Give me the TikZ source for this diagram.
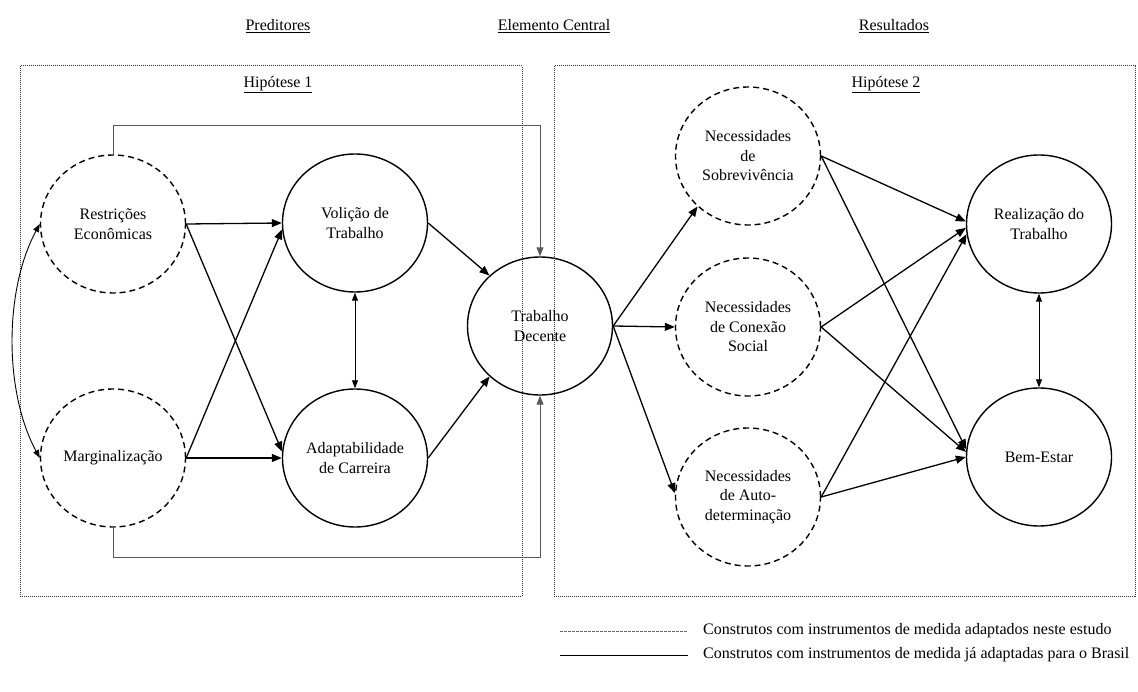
\documentclass[tikz,border=0pt]{standalone}
\usepackage{fontspec}
\setmainfont{Liberation Serif}
\usetikzlibrary{arrows.meta,shapes.geometric}
\begin{document}
\begin{tikzpicture}[x=1pt,y=-1pt,
  every node/.style={font=\fontsize{16}{19.5}\selectfont, text=black},
  construct/.style={ellipse, draw, line width=1.4pt, minimum width=145pt, minimum height=138pt, inner sep=0pt, align=center},
  latent/.style={construct, dash pattern=on 6pt off 4pt},
  solidc/.style={construct},
  path/.style={line width=1.3pt, -{Triangle[length=10pt,width=8pt]}},
  thinarrow/.style={line width=0.9pt, {Triangle[length=8pt,width=6pt]}-{Triangle[length=8pt,width=6pt]}},
  route/.style={line width=1pt, black!65, -{Triangle[length=9pt,width=7pt]}},
  dotbox/.style={line width=1pt, dash pattern=on 1pt off 1pt, black!80},
  header/.style={anchor=center}
]
\useasboundingbox (0,0) rectangle (1138,692);

% boxes
\draw[dotbox] (20,66) rectangle (522,596);
\draw[dotbox] (554,66) rectangle (1135,596);

% headers
\node[header] (h1) at (278,26) {\underline{Preditores}};
\node[header] (h2) at (554,26) {\underline{Elemento Central}};
\node[header] (h3) at (894,26) {\underline{Resultados}};
\node[header] (hy1) at (278,85) {\underline{Hipótese 1}};
\node[header] (hy2) at (886,85) {\underline{Hipótese 2}};

% constructs
\node[latent] (RE) at (113,224) {Restrições\\Econômicas};
\node[latent] (MA) at (113,458) {Marginalização};
\node[solidc] (VT) at (355,223) {Volição de\\Trabalho};
\node[solidc] (AC) at (355,458) {Adaptabilidade\\de Carreira};
\node[solidc] (TD) at (540,326) {Trabalho\\Decente};
\node[latent] (NS) at (748,156) {Necessidades\\de\\Sobrevivência};
\node[latent] (NC) at (748,327) {Necessidades\\de Conexão\\Social};
\node[latent] (ND) at (748,497) {Necessidades\\de Auto-\\determinação};
\node[solidc] (RT) at (1039,224) {Realização do\\Trabalho};
\node[solidc] (BE) at (1039,457) {Bem-Estar};

% predictors
\draw[path] (RE.east) -- (VT.west);
\draw[path] (RE.east) -- (AC.175);
\draw[path] (MA.east) -- (AC.west);
\draw[path] (MA.east) -- (VT.185);
\draw[thinarrow] (VT.south) -- (AC.north);
\draw[path] (VT.east) -- (TD.135);
\draw[path] (AC.east) -- (TD.225);
\draw[thinarrow] (RE.west) .. controls (4,290) and (4,392) .. (MA.west);

% routed paths
\draw[route] (RE.north) -- ++(0,-29) -| (TD.north);
\draw[route] (MA.south) -- ++(0,30) -| (TD.south);

% outcomes
\draw[path] (TD.east) -- (NS.225);
\draw[path] (TD.east) -- (NC.west);
\draw[path] (TD.east) -- (ND.177);

\draw[path] (NS.east) -- (RT.178);
\draw[path] (NS.east) -- (BE.174);
\draw[path] (NC.east) -- (RT.183);
\draw[path] (NC.east) -- (BE.176);
\draw[path] (ND.east) -- (RT.188);
\draw[path] (ND.east) -- (BE.west);
\draw[thinarrow] (RT.south) -- (BE.north);

% legend
\coordinate (l1a) at (560,631);
\coordinate (l1b) at (688,631);
\coordinate (l2a) at (560,655);
\coordinate (l2b) at (688,655);
\draw[line width=0.6pt, black!60, dash pattern=on 2.5pt off 1.5pt] (l1a) -- (l1b);
\draw[line width=1pt, black] (l2a) -- (l2b);
\node[anchor=west, inner sep=0pt] (leg1) at (703,631) {Construtos com instrumentos de medida adaptados neste estudo};
\node[anchor=west, inner sep=0pt] (leg2) at (703,655) {Construtos com instrumentos de medida já adaptadas para o Brasil};
\end{tikzpicture}
\end{document}
